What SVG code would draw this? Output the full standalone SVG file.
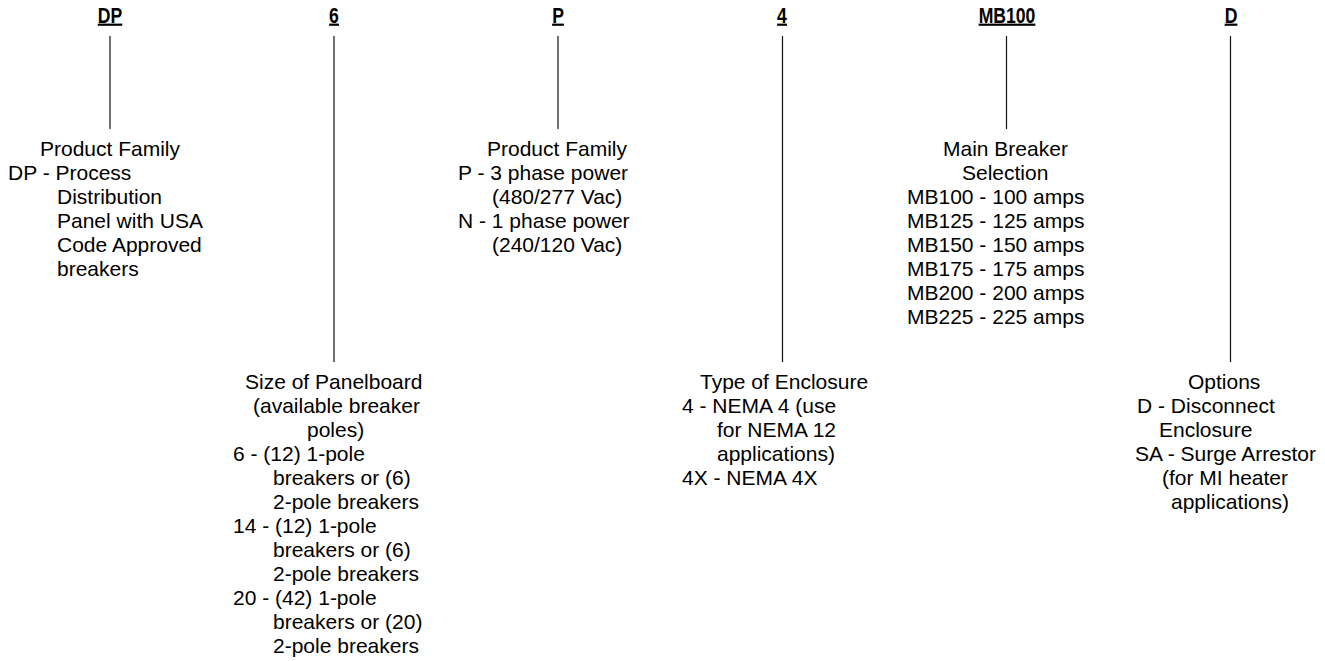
<svg xmlns="http://www.w3.org/2000/svg" width="1325" height="661" viewBox="0 0 1325 661">
<style>
.hdr{font-family:"Liberation Sans",Arial,sans-serif;font-weight:bold;font-size:22px;fill:#000;text-anchor:middle;text-decoration:underline}
.t{font-family:"Liberation Sans",Arial,Helvetica,sans-serif;font-size:21px;fill:#000}
.ln{stroke:#111;stroke-width:1.2;fill:none}
</style>
<rect width="1325" height="661" fill="#fff"/>
<g id="connectors">
<line class="ln" x1="110" y1="36" x2="110" y2="129"/>
<line class="ln" x1="334" y1="36" x2="334" y2="362"/>
<line class="ln" x1="558" y1="36" x2="558" y2="129"/>
<line class="ln" x1="782.5" y1="36" x2="782.5" y2="362"/>
<line class="ln" x1="1006.5" y1="36" x2="1006.5" y2="129"/>
<line class="ln" x1="1230.5" y1="36" x2="1230.5" y2="362"/>
</g>
<g id="node-dp">
<text class="hdr" transform="translate(110,22.5) scale(0.8,1)">DP</text>
<text class="t" x="40" y="156">Product Family</text>
<text class="t" x="8" y="180">DP - Process</text>
<text class="t" x="57" y="204">Distribution</text>
<text class="t" x="57" y="228">Panel with USA</text>
<text class="t" x="57" y="252">Code Approved</text>
<text class="t" x="57" y="276">breakers</text>
</g>
<g id="node-6">
<text class="hdr" transform="translate(334,22.5) scale(0.8,1)">6</text>
<text class="t" x="245" y="389">Size of Panelboard</text>
<text class="t" x="253" y="413">(available breaker</text>
<text class="t" x="307" y="437">poles)</text>
<text class="t" x="233" y="461">6 - (12) 1-pole</text>
<text class="t" x="273" y="485">breakers or (6)</text>
<text class="t" x="273" y="509">2-pole breakers</text>
<text class="t" x="233" y="533">14 - (12) 1-pole</text>
<text class="t" x="273" y="557">breakers or (6)</text>
<text class="t" x="273" y="581">2-pole breakers</text>
<text class="t" x="233" y="605">20 - (42) 1-pole</text>
<text class="t" x="273" y="629">breakers or (20)</text>
<text class="t" x="273" y="653">2-pole breakers</text>
</g>
<g id="node-p">
<text class="hdr" transform="translate(558,22.5) scale(0.8,1)">P</text>
<text class="t" x="487" y="156">Product Family</text>
<text class="t" x="458" y="180">P - 3 phase power</text>
<text class="t" x="492" y="204">(480/277 Vac)</text>
<text class="t" x="458" y="228">N - 1 phase power</text>
<text class="t" x="492" y="252">(240/120 Vac)</text>
</g>
<g id="node-4">
<text class="hdr" transform="translate(782,22.5) scale(0.8,1)">4</text>
<text class="t" x="700" y="389">Type of Enclosure</text>
<text class="t" x="682" y="413">4 - NEMA 4 (use</text>
<text class="t" x="717" y="437">for NEMA 12</text>
<text class="t" x="717" y="461">applications)</text>
<text class="t" x="682" y="485">4X - NEMA 4X</text>
</g>
<g id="node-mb100">
<text class="hdr" transform="translate(1007,22.5) scale(0.8,1)">MB100</text>
<text class="t" x="943" y="156">Main Breaker</text>
<text class="t" x="962" y="180">Selection</text>
<text class="t" x="907" y="204">MB100 - 100 amps</text>
<text class="t" x="907" y="228">MB125 - 125 amps</text>
<text class="t" x="907" y="252">MB150 - 150 amps</text>
<text class="t" x="907" y="276">MB175 - 175 amps</text>
<text class="t" x="907" y="300">MB200 - 200 amps</text>
<text class="t" x="907" y="324">MB225 - 225 amps</text>
</g>
<g id="node-d">
<text class="hdr" transform="translate(1231,22.5) scale(0.8,1)">D</text>
<text class="t" x="1188" y="389">Options</text>
<text class="t" x="1137" y="413">D - Disconnect</text>
<text class="t" x="1159" y="437">Enclosure</text>
<text class="t" x="1135" y="461">SA - Surge Arrestor</text>
<text class="t" x="1162" y="485">(for MI heater</text>
<text class="t" x="1171" y="509">applications)</text>
</g>
</svg>
